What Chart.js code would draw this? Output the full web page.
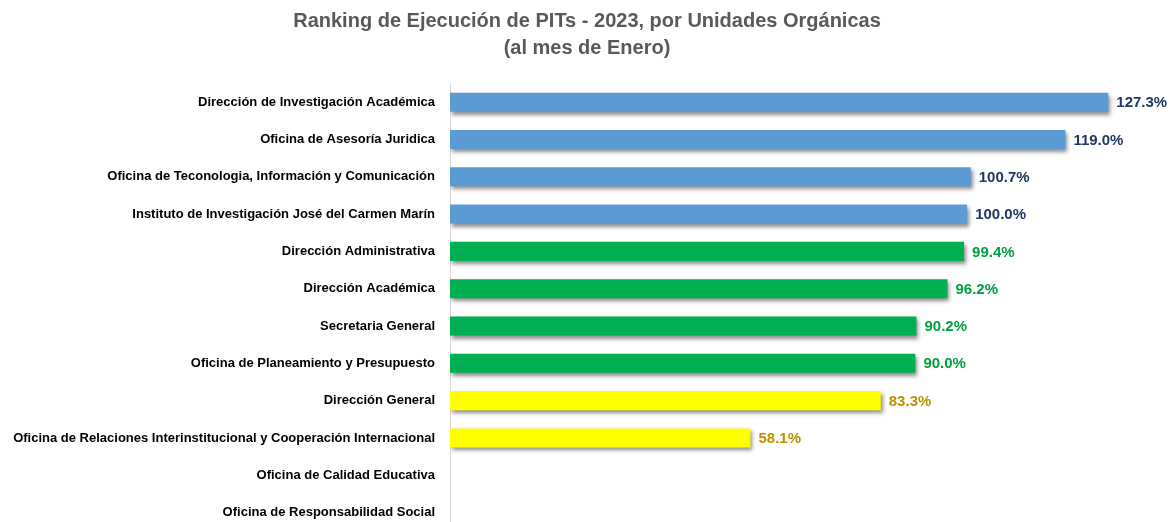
<!DOCTYPE html>
<html lang="es">
<head>
<meta charset="utf-8">
<title>Ranking de Ejecución de PITs - 2023</title>
<script src="https://cdn.jsdelivr.net/npm/chart.js@4"></script>
<style>
  html, body { margin: 0; padding: 0; background: #fff; overflow: hidden; }
  #ranking-chart { display: block; }
</style>
</head>
<body>
<canvas id="ranking-chart" width="1174" height="546"></canvas>
<script>
// 데이터
const unidades = [
  "Dirección de Investigación Académica",
  "Oficina de Asesoría Juridica",
  "Oficina de Teconologia, Información y Comunicación",
  "Instituto de Investigación José del Carmen Marín",
  "Dirección Administrativa",
  "Dirección Académica",
  "Secretaria General",
  "Oficina de Planeamiento y Presupuesto",
  "Dirección General",
  "Oficina de Relaciones Interinstitucional y Cooperación Internacional",
  "Oficina de Calidad Educativa",
  "Oficina de Responsabilidad Social",
];
const ejecucion = [127.3, 119.0, 100.7, 100.0, 99.4, 96.2, 90.2, 90.0, 83.3, 58.1, null, null];
const tituloLineas = [
  "Ranking de Ejecución de PITs - 2023, por Unidades Orgánicas",
  "(al mes de Enero)",
];

const labelFont = "'Liberation Sans', Arial, sans-serif";

// 값에 따른 색상
function barColor(v) {
  if (v >= 100) return "#5b9bd5";
  if (v >= 90) return "#00b050";
  return "#ffff00";
}
function labelColor(v) {
  if (v >= 100) return "#1f3864";
  if (v >= 90) return "#00a040";
  return "#bf9000";
}

// 막대 그림자
const shadowPlugin = {
  id: "barShadow",
  beforeDatasetsDraw(chart) {
    const ctx = chart.ctx;
    ctx.save();
    ctx.shadowColor = "rgba(0, 0, 0, 0.45)";
    ctx.shadowOffsetX = 2;
    ctx.shadowOffsetY = 3;
    ctx.shadowBlur = 4;
  },
  afterDatasetsDraw(chart) {
    chart.ctx.restore();
  },
};

// 값 라벨
const valueLabels = {
  id: "valueLabels",
  afterDatasetsDraw(chart) {
    const ctx = chart.ctx;
    const meta = chart.getDatasetMeta(0);
    ctx.save();
    ctx.font = "bold 15px " + labelFont;
    ctx.textBaseline = "middle";
    ctx.textAlign = "left";
    meta.data.forEach((bar, i) => {
      const v = ejecucion[i];
      if (v === null || v === undefined) return;
      ctx.fillStyle = labelColor(v);
      ctx.fillText(v.toFixed(1) + "%", bar.x + 8, bar.y + 1);
    });
    ctx.restore();
  },
};

new Chart(document.getElementById("ranking-chart"), {
  type: "bar",
  data: {
    labels: unidades,
    datasets: [
      {
        data: ejecucion,
        backgroundColor: ejecucion.map(barColor),
        borderWidth: 0,
        barPercentage: 0.51,
        categoryPercentage: 1,
      },
    ],
  },
  options: {
    indexAxis: "y",
    responsive: false,
    animation: false,
    layout: { padding: { left: 0, right: 0, top: 0, bottom: 3 } },
    scales: {
      x: {
        min: 0,
        max: 140,
        display: false,
      },
      y: {
        grid: { display: false },
        border: { display: true, color: "#d9d9d9", width: 1 },
        ticks: {
          color: "#000",
          padding: 7,
          font: { family: labelFont, size: 13, weight: "bold" },
        },
        afterFit(scale) {
          scale.width = 450;
        },
      },
    },
    plugins: {
      legend: { display: false },
      tooltip: { enabled: false },
      title: {
        display: true,
        text: tituloLineas,
        color: "#595959",
        font: { family: labelFont, size: 20, weight: "bold", lineHeight: 1.35 },
        padding: { top: 8, bottom: 21.5 },
      },
    },
  },
  plugins: [shadowPlugin, valueLabels],
});
</script>
</body>
</html>
